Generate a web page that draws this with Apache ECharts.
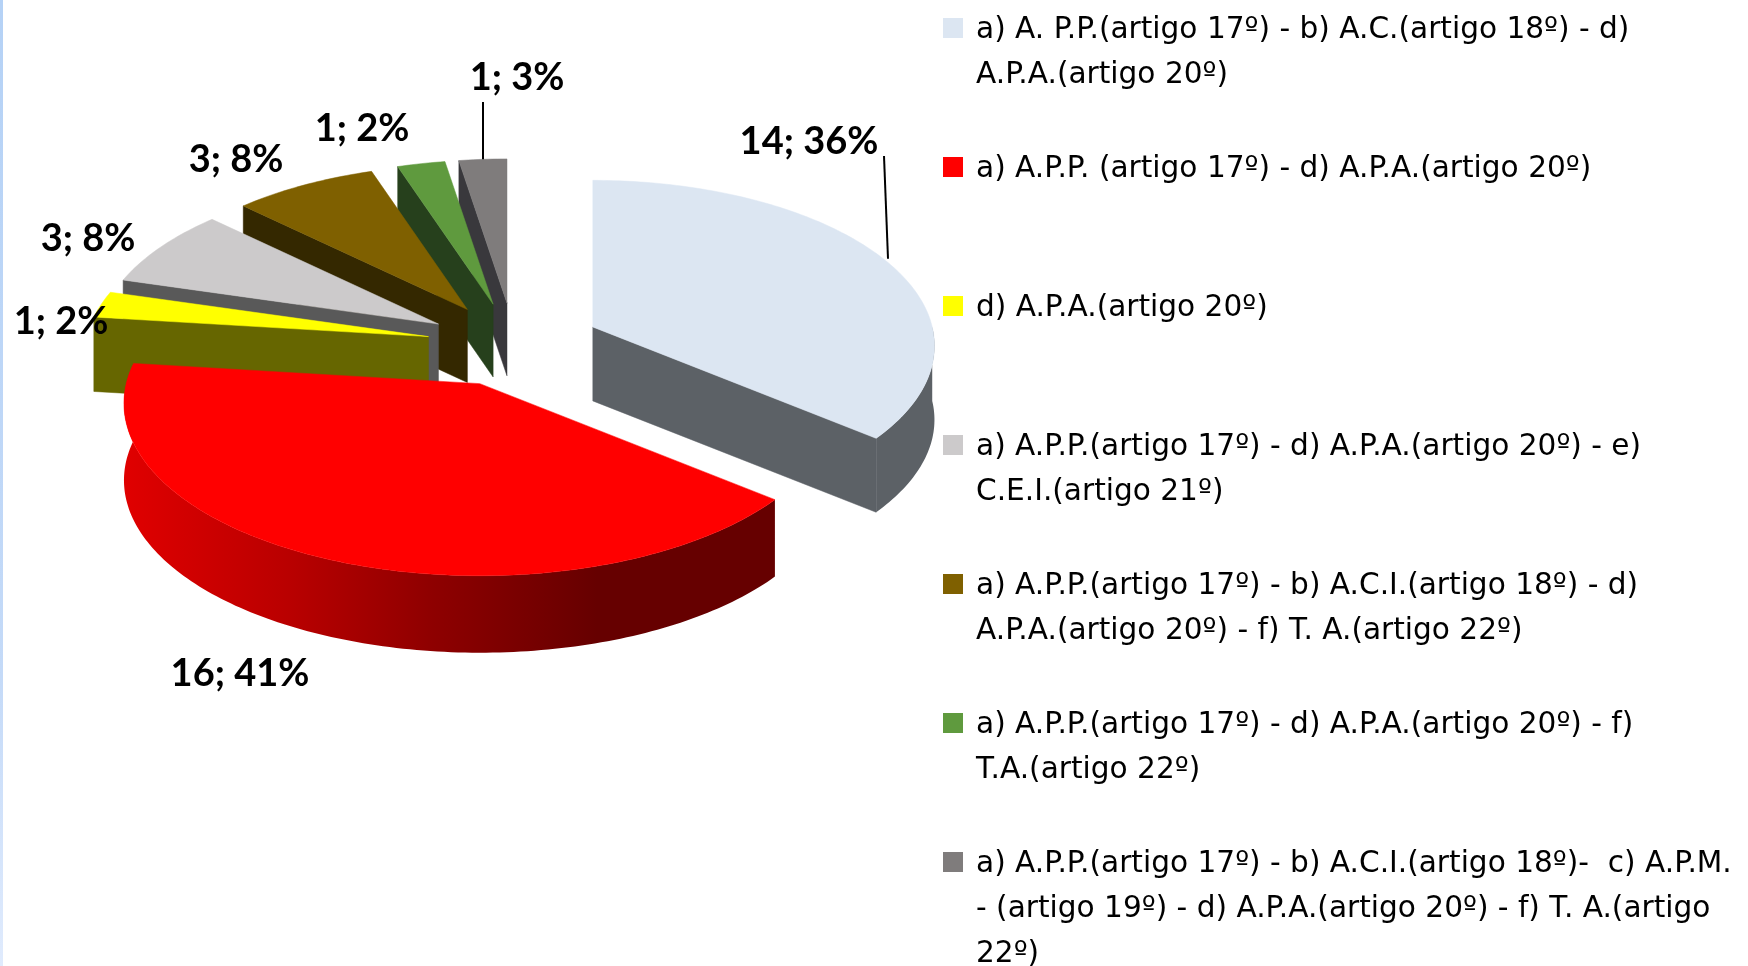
<!DOCTYPE html>
<html>
<head>
<meta charset="utf-8">
<style>html,body{margin:0;padding:0;background:#fff}#c{width:1748px;height:966px}</style>
<script src="https://cdn.jsdelivr.net/npm/echarts@6/dist/echarts.min.js"></script>
</head>
<body>
<div id="c"></div>
<script>
// ---- data ----
const categories = [
  'a) A. P.P.(artigo 17º) - b) A.C.(artigo 18º) - d)\nA.P.A.(artigo 20º)',
  'a) A.P.P. (artigo 17º) - d) A.P.A.(artigo 20º)',
  'd) A.P.A.(artigo 20º)',
  'a) A.P.P.(artigo 17º) - d) A.P.A.(artigo 20º) - e)\nC.E.I.(artigo 21º)',
  'a) A.P.P.(artigo 17º) - b) A.C.I.(artigo 18º) - d)\nA.P.A.(artigo 20º) - f) T. A.(artigo 22º)',
  'a) A.P.P.(artigo 17º) - d) A.P.A.(artigo 20º) - f)\nT.A.(artigo 22º)',
  'a) A.P.P.(artigo 17º) - b) A.C.I.(artigo 18º)-  c) A.P.M.\n- (artigo 19º) - d) A.P.A.(artigo 20º) - f) T. A.(artigo\n22º)'
];
const values = [14, 16, 1, 3, 3, 1, 1];
const percents = [36, 41, 2, 8, 8, 2, 3];

// ---- styling ----
const topColors  = ['#DCE6F2', '#FF0000', '#FFFF00', '#CCCACB', '#7F6000', '#5F9A3E', '#7F7C7C'];
const wallColors = ['#5C6166', '#660000', '#666600', '#595959', '#342800', '#26401C', '#39383C'];
const drawOrder  = [6, 5, 4, 3, 2, 0, 1];

// ---- 3D pie projection ----
const pie = { cx: 514, cy: 345, rx: 349, ry: 168, persp: 0.114, depth: 76, explode: 0.25, nearScale: 0.985, farScale: 0.03 };
const total = values.reduce((a, b) => a + b, 0);
const starts = [];
values.reduce((acc, v, i) => { starts[i] = acc; return acc + v; }, 0);
const ang = v => v / total * 360;
const rad = d => d * Math.PI / 180;
const midY = i => Math.cos(rad(ang(starts[i] + values[i] / 2)));
const scaleOf = i => pie.nearScale / (1 + pie.farScale * midY(i));

function apexOf(i) {
  const m = rad(ang(starts[i] + values[i] / 2));
  return [pie.cx + pie.explode * pie.rx * Math.sin(m), pie.cy - pie.explode * pie.ry * Math.cos(m)];
}
function rim(i, a, deg) {
  const X = Math.sin(rad(deg)), Y = Math.cos(rad(deg)), s = scaleOf(i) / (1 + pie.persp * Y);
  return [a[0] + pie.rx * X * s, a[1] - pie.ry * Y * s];
}
function arc(i, a, from, to) {
  const pts = [], n = Math.max(4, Math.ceil(Math.abs(to - from)));
  for (let k = 0; k <= n; k++) pts.push(rim(i, a, from + (to - from) * k / n));
  return pts;
}
const poly = (points, fill) => ({ type: 'polygon', shape: { points }, style: { fill, stroke: fill, lineWidth: 0.5 } });

function renderSlice(i) {
  return function () {
    const a = apexOf(i), s = ang(starts[i]), e = ang(starts[i] + values[i]);
    const wall = wallColors[i], children = [];
    const down = p => [p[0], p[1] + pie.depth * scaleOf(i)];
    [[s, s - 90], [e, e + 90]].forEach(([edge, normal]) => {
      if (Math.cos(rad(normal)) < -0.01) {
        const r = rim(i, a, edge);
        children.push(poly([a, r, down(r), down(a)], wall));
      }
    });
    const from = Math.max(s, 90), to = Math.min(e, 280);
    if (to > from) {
      const upper = arc(i, a, from, to);
      const fill = i === 1 ? {
        type: 'linear', x: 125, y: 0, x2: 650, y2: 0, global: true,
        colorStops: [{ offset: 0, color: '#E00000' }, { offset: 0.32, color: '#B80000' },
                     { offset: 0.58, color: '#8F0000' }, { offset: 0.9, color: '#660000' }, { offset: 1, color: '#660000' }]
      } : wall;
      children.push({ type: 'polygon', shape: { points: upper.concat(upper.map(down).reverse()) }, style: { fill } });
    }
    children.push(poly([a].concat(arc(i, a, s, e)), topColors[i]));
    return { type: 'group', children };
  };
}

// ---- data labels (position in the page) ----
const labelSpots = [[809, 142], [240, 674], [61, 322], [88, 239], [236, 160], [362, 129], [517, 78]];
const leaders = [
  { slice: 0, rimDeg: 64, x1: 884, y1: 156, x2: 888 },
  { slice: 6, rimDeg: 356, x1: 483, y1: 102, x2: 483 }
];

function renderLabels() {
  const children = [];
  leaders.forEach(l => {
    const p = rim(l.slice, apexOf(l.slice), l.rimDeg);
    children.push({ type: 'line', shape: { x1: l.x1, y1: l.y1, x2: l.x2, y2: p[1] },
      style: { stroke: '#000', lineWidth: 2 } });
  });
  labelSpots.forEach((p, i) => {
    children.push({ type: 'text', x: p[0], y: p[1], style: {
      text: values[i] + '; ' + percents[i] + '%', x: 0, y: 0, align: 'center', verticalAlign: 'middle',
      font: 'bold 38px Lato', fill: '#000' } });
  });
  return { type: 'group', children };
}

const legendIcon = 'path://M0 10H20V30H0Z M0 0L0 0.1Z M28 135L28 134.9Z';
const lineCount = s => s.split('\n').length;

const option = {
  animation: false,
  backgroundColor: '#fff',
  graphic: [{ type: 'rect', shape: { x: 0, y: 0, width: 3, height: 966 }, style: {
    fill: { type: 'linear', x: 0, y: 0, x2: 0, y2: 1, colorStops: [
      { offset: 0, color: '#B5D2F6' }, { offset: 0.7, color: '#C4DAF8' }, { offset: 1, color: '#E0EBFD' }] } } }],
  legend: {
    orient: 'vertical', left: 943, top: 8, height: 1200, padding: 0,
    itemWidth: 28, itemHeight: 135, itemGap: 4, selectedMode: false,
    icon: legendIcon, align: 'left',
    data: categories,
    formatter: n => n + '\n '.repeat(3 - lineCount(n)),
    textStyle: { fontFamily: 'DejaVu Sans', fontSize: 29.6, lineHeight: 45, color: '#000' },
    itemStyle: { borderWidth: 0 }
  },
  series: drawOrder.map(i => ({
    type: 'custom', name: categories[i], coordinateSystem: 'none', silent: true,
    itemStyle: { color: topColors[i] }, color: topColors[i],
    data: [[values[i], percents[i]]], renderItem: renderSlice(i)
  })).concat([{
    type: 'custom', name: 'labels', coordinateSystem: 'none', silent: true, z: 5,
    data: [[0]], renderItem: renderLabels
  }])
};
const chart = echarts.init(document.getElementById('c'), null, { renderer: 'canvas', width: 1748, height: 966 });
chart.setOption(option);
</script>
</body>
</html>
